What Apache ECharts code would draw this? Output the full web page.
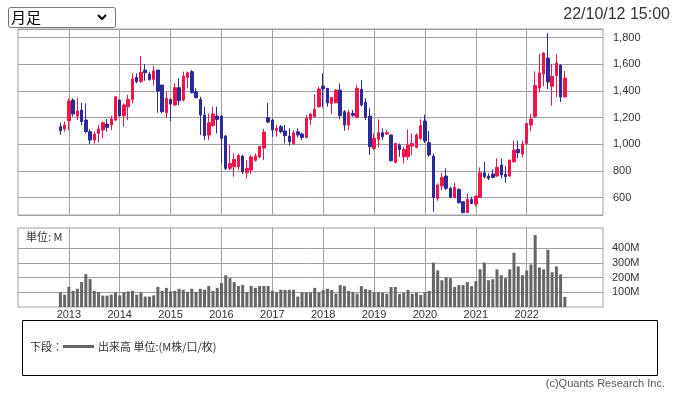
<!DOCTYPE html>
<html>
<head>
<meta charset="utf-8">
<script src="https://cdn.jsdelivr.net/npm/echarts@6/dist/echarts.min.js"></script>
<style>html,body{margin:0;padding:0;background:#fff}#c{width:677px;height:395px}</style>
</head>
<body>
<div id="c"></div>
<script>
// Axis categories: months Jan 2012 .. Jul 2023 (data Nov 2012 .. Oct 2022)
const firstYear = 2012, monthCount = 139;
const dataStart = '2012-11';
const yearLabels = ['2013','2014','2015','2016','2017','2018','2019','2020','2021','2022'];
const priceTicks = [600, 800, 1000, 1200, 1400, 1600, 1800];
const volumeTicks = [100, 200, 300, 400];

const open = [1132,1115,1177,1332,1212,1257,1182,1095,1032,1082,
1107,1152,1145,1182,1332,1215,1282,1337,1502,1470,
1557,1527,1487,1557,1445,1237,1337,1295,1425,1332,
1502,1545,1395,1337,1220,1070,1140,1212,1212,1062,
820,832,832,912,787,807,880,905,972,1200,
1182,1102,1132,1100,1062,1007,1095,1077,1052,1187,
1207,1282,1437,1420,1307,1312,1407,1245,1145,1232,
1202,1412,1315,1212,970,1037,1087,1077,1070,865,
995,907,907,987,977,1045,1175,1012,912,595,
687,762,670,602,662,570,487,587,552,602,
787,762,777,762,845,777,762,870,962,927,
1007,1145,1210,1422,1527,1647,1435,1515,1592,1355];

const close = [1102,1145,1325,1227,1250,1170,1095,1032,1077,1115,
1162,1127,1190,1357,1215,1295,1337,1490,1470,1540,
1537,1487,1550,1400,1245,1345,1302,1425,1327,1512,
1537,1387,1350,1220,1065,1162,1227,1187,1045,820,
857,887,917,795,820,905,912,985,1092,1167,
1107,1120,1095,1065,1020,1087,1070,1052,1195,1227,
1262,1415,1415,1312,1352,1407,1215,1145,1237,1217,
1420,1295,1202,982,1045,1087,1057,1087,877,1007,
962,962,995,1007,1070,1140,1025,920,602,695,
752,670,602,677,562,487,587,557,612,787,
757,745,752,827,770,757,882,957,937,1002,
1157,1190,1442,1535,1685,1467,1510,1610,1355,1497];

const low = [1072,1095,1107,1207,1182,1145,1082,1000,1007,1015,
1045,1095,1107,1175,1207,1132,1182,1307,1457,1462,
1477,1477,1440,1237,1232,1200,1175,1287,1295,1320,
1420,1382,1345,1070,1032,1032,1132,1082,857,807,
807,757,807,777,745,777,870,895,882,1157,
1057,1057,1082,1007,990,995,1052,1032,1045,1145,
1207,1275,1277,1282,1227,1307,1187,1102,1107,1207,
1195,1282,1182,920,957,977,1032,1070,870,857,
907,857,882,920,970,1032,1010,907,495,577,
657,657,595,595,557,487,487,552,532,602,
745,732,745,757,745,712,757,862,895,902,
995,1100,1197,1390,1435,1415,1290,1352,1317,1355];

const high = [1162,1170,1345,1345,1352,1312,1307,1115,1095,1145,
1170,1190,1215,1357,1337,1307,1370,1532,1532,1662,
1602,1545,1590,1560,1445,1395,1345,1457,1495,1545,
1545,1557,1420,1357,1282,1232,1282,1282,1220,1070,
995,932,932,920,882,920,932,985,1115,1310,
1194,1145,1145,1145,1120,1107,1120,1087,1220,1232,
1375,1432,1532,1420,1352,1412,1457,1257,1257,1257,
1445,1482,1345,1270,1082,1187,1120,1107,1072,1007,
1007,982,1112,1082,1082,1187,1222,1100,932,707,
787,820,682,712,670,570,632,607,612,827,
870,782,812,895,895,837,882,1027,1027,1027,
1157,1225,1547,1677,1692,1835,1602,1677,1602,1552];

const volume = [99,84,137,110,124,170,223,190,110,102,
77,77,84,99,79,102,106,110,84,99,
71,71,79,137,110,130,106,110,124,117,
102,124,102,124,117,143,110,130,163,216,
196,170,143,150,102,143,130,143,143,143,
110,99,117,117,117,117,71,99,99,99,
130,100,116,124,116,91,149,142,109,102,
91,142,122,116,102,100,96,89,136,136,
89,96,116,89,96,82,100,109,302,249,
182,202,196,136,149,149,169,142,176,256,
302,182,189,256,216,196,256,369,276,216,
249,289,489,269,256,389,236,276,222,69];

// build categories and series data
const months = [];
for (let i = 0; i < monthCount; i++) {
  const y = firstYear + Math.floor(i / 12), m = i % 12 + 1;
  months.push(y + '-' + (m < 10 ? '0' + m : m));
}
const offset = months.indexOf(dataStart);
const candleData = months.map((_, i) => {
  const k = i - offset;
  return (k >= 0 && k < open.length) ? [open[k], close[k], low[k], high[k]] : '-';
});
const volData = months.map((_, i) => {
  const k = i - offset;
  return (k >= 0 && k < volume.length) ? volume[k] : '-';
});

const RED = '#f0144b', BLUE = '#2b2a98', GRID = '#a0a0a0';
const NUMFONT = "'Liberation Sans', Arial, sans-serif";
const JPFONT = "'Noto Sans CJK JP', sans-serif";
const isYearLine = (idx, val) => {
  const v = typeof val === 'string' ? val : months[idx];
  return v.endsWith('-01') && yearLabels.indexOf(v.slice(0, 4)) >= 0;
};
const comma = v => String(v).replace(/\B(?=(\d{3})+(?!\d))/g, ',');

const chart = echarts.init(document.getElementById('c'), null, {renderer: 'canvas'});
chart.setOption({
  animation: false,
  backgroundColor: '#fff',
  grid: [
    {left: 18, right: 74, top: 29, height: 186, show: true, borderColor: GRID, borderWidth: 1, backgroundColor: '#fff'},
    {left: 18, right: 74, top: 228, height: 79, show: true, borderColor: GRID, borderWidth: 1, backgroundColor: '#fff'}
  ],
  xAxis: [
    {type: 'category', gridIndex: 0, data: months, boundaryGap: false,
     axisLine: {show: false}, axisTick: {show: false}, axisLabel: {show: false},
     splitLine: {show: true, interval: isYearLine, lineStyle: {color: GRID, width: 1}}},
    {type: 'category', gridIndex: 1, data: months, boundaryGap: false,
     axisLine: {show: false}, axisTick: {show: false},
     axisLabel: {show: true, interval: isYearLine, formatter: v => v.slice(0, 4),
                 margin: 2, fontSize: 11, color: '#333', fontFamily: NUMFONT},
     splitLine: {show: true, interval: isYearLine, lineStyle: {color: GRID, width: 1}}}
  ],
  yAxis: [
    {type: 'value', gridIndex: 0, position: 'right', min: 470, max: 1865, splitNumber: 7,
     axisLine: {show: false}, axisTick: {show: false},
     axisLabel: {showMinLabel: false, showMaxLabel: false, margin: 10, fontSize: 11, color: '#333',
                 fontFamily: NUMFONT,
                 formatter: v => priceTicks.indexOf(v) >= 0 ? comma(v) : ''},
     splitLine: {show: true, lineStyle: {color: GRID, width: 1}}},
    {type: 'value', gridIndex: 1, position: 'right', min: 0, max: 537, splitNumber: 5,
     axisLine: {show: false}, axisTick: {show: false},
     axisLabel: {margin: 9, fontSize: 11, color: '#333', fontFamily: NUMFONT,
                 formatter: v => volumeTicks.indexOf(v) >= 0 ? v + 'M' : ''},
     splitLine: {show: false}}
  ],
  series: [
    {type: 'candlestick', xAxisIndex: 0, yAxisIndex: 0, data: candleData, barWidth: 3,
     itemStyle: {color: RED, color0: BLUE, borderColor: RED, borderColor0: BLUE, borderWidth: 1}},
    {type: 'bar', xAxisIndex: 1, yAxisIndex: 1, data: volData, barWidth: 3, z: 3,
     itemStyle: {color: '#666'},
     markLine: {silent: true, z: 1, symbol: 'none', label: {show: false},
                lineStyle: {color: GRID, type: 'solid', width: 1},
                emphasis: {disabled: true},
                data: volumeTicks.map(v => ({yAxis: v}))}}
  ],
  graphic: [
    {type: 'rect', shape: {x: 8.5, y: 7.5, width: 107, height: 20, r: 2},
     style: {fill: '#fff', stroke: '#767676', lineWidth: 1}},
    {type: 'text', x: 11, y: 17.5, style: {text: '月足', font: "15px " + JPFONT, fill: '#000', verticalAlign: 'middle'}},
    {type: 'polyline', shape: {points: [[98, 15], [102, 19], [106, 15]]},
     style: {stroke: '#000', lineWidth: 2, fill: null}},
    {type: 'text', x: 670, y: 15, style: {text: '22/10/12 15:00', font: "16px " + NUMFONT, fill: '#333', align: 'right', verticalAlign: 'middle'}},
    {type: 'text', x: 26, y: 236.5, style: {text: '単位: M', font: "11px " + JPFONT, fill: '#333', verticalAlign: 'middle'}},
    {type: 'rect', shape: {x: 22.5, y: 320.5, width: 635, height: 55},
     style: {fill: null, stroke: '#000', lineWidth: 1}},
    {type: 'text', x: 30, y: 346.5, style: {text: '下段：', font: "11px " + JPFONT, fill: '#333', verticalAlign: 'middle'}},
    {type: 'line', shape: {x1: 63, y1: 346.5, x2: 94, y2: 346.5}, style: {stroke: '#666', lineWidth: 3}},
    {type: 'text', x: 98, y: 346.5, style: {text: '出来高 単位:(M株/口/枚)', font: "11px " + JPFONT, fill: '#333', verticalAlign: 'middle'}},
    {type: 'text', x: 665, y: 384, style: {text: '(c)Quants Research Inc.', font: "11px " + NUMFONT, fill: '#555', align: 'right', verticalAlign: 'middle'}}
  ]
});
</script>
</body>
</html>
